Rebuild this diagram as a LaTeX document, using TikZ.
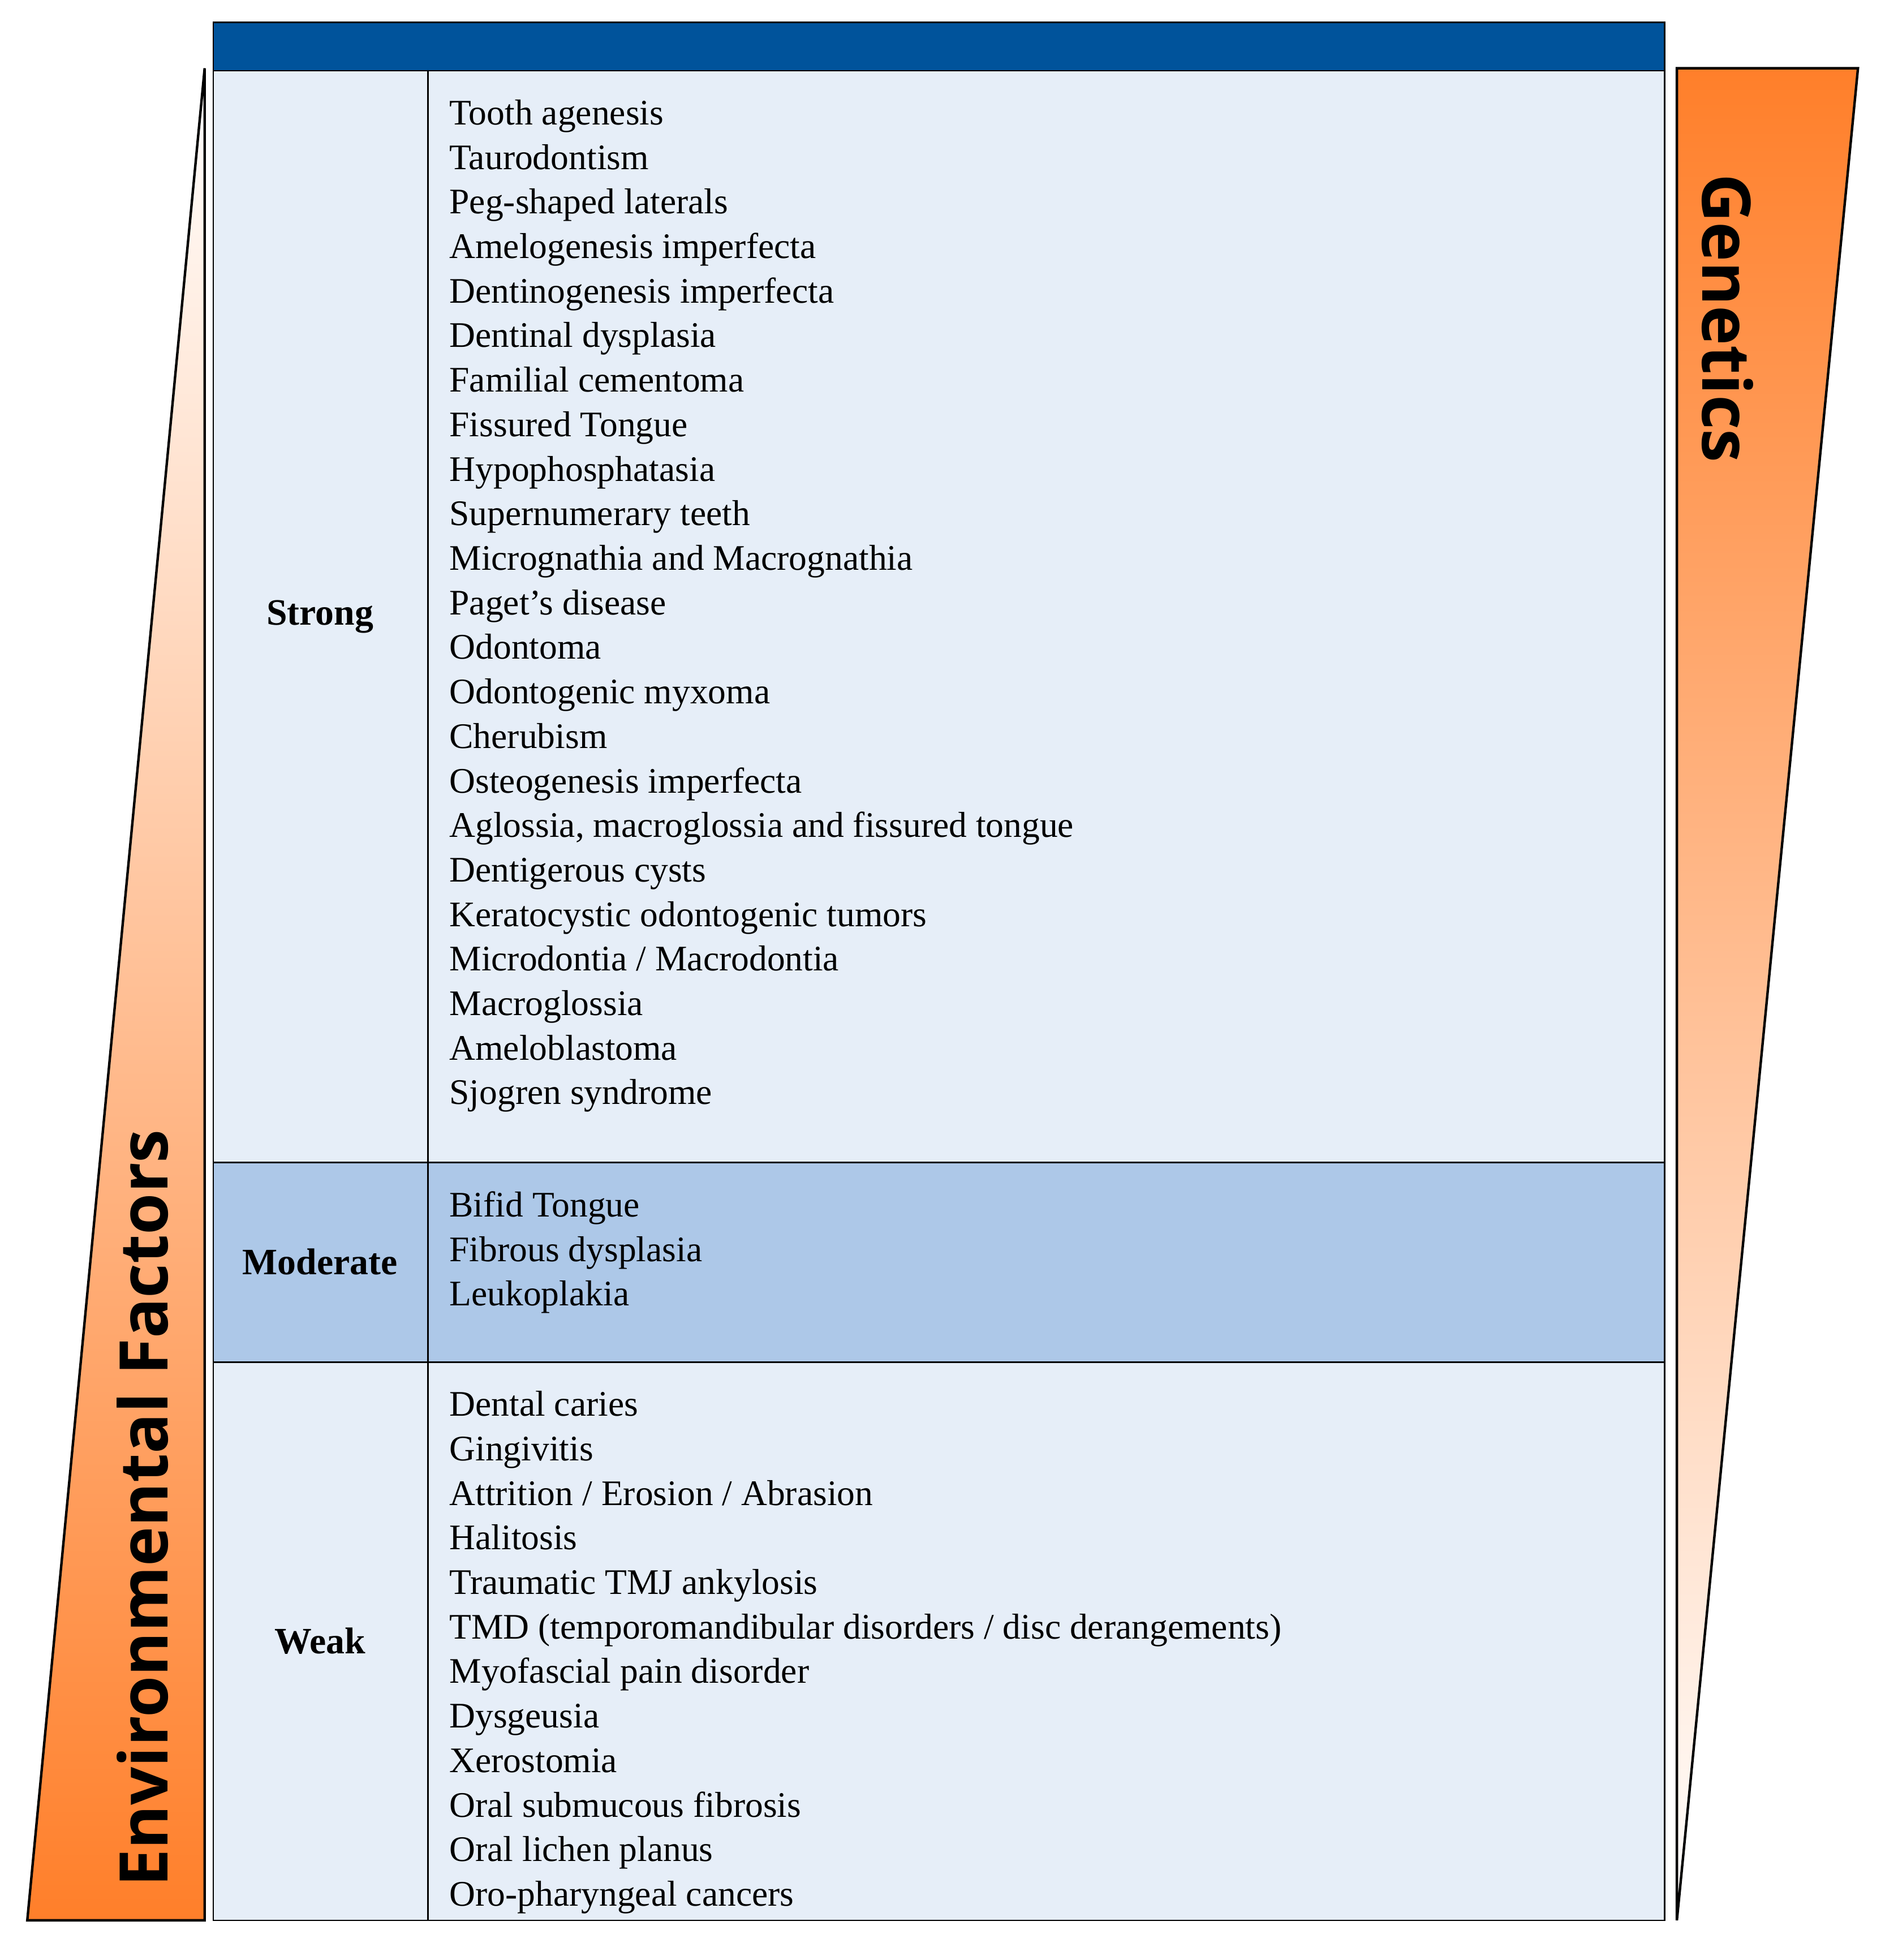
\documentclass[tikz,border=0pt]{standalone}
\usepackage{fontspec}
\setmainfont{Liberation Serif}
\newfontfamily\titlefont{Open Sans}
\begin{document}
\begin{tikzpicture}[x=0.5pt,y=-0.5pt,
  item/.style={anchor=north west,inner sep=0pt,align=left,font=\fontsize{14.5}{17.95}\selectfont},
  lab/.style={font=\fontsize{15}{18}\selectfont\bfseries},
  cell/.style={draw=black,line width=0.6pt}]
\definecolor{hdr}{HTML}{00539B}
\definecolor{light}{HTML}{E6EEF8}
\definecolor{mid}{HTML}{ADC8E8}
\definecolor{org}{HTML}{FF7F2A}
\useasboundingbox (0,0) rectangle (1530,1580);
% table
\fill[hdr] (172,18) rectangle (1342,57);
\fill[light] (172,57) rectangle (1342,937);
\fill[mid] (172,937) rectangle (1342,1098);
\fill[light] (172,1098) rectangle (1342,1548);
\draw[cell] (172,18) rectangle (1342,1548);
\draw[cell] (172,57) -- (1342,57);
\draw[cell] (172,937) -- (1342,937);
\draw[cell] (172,1098) -- (1342,1098);
\draw[cell] (345,57) -- (345,1548);
% triangles
\shade[top color=white,bottom color=org,draw=black,line width=1pt] (165,55) -- (165,1548) -- (22,1548) -- cycle;
\shade[top color=org,bottom color=white,draw=black,line width=1pt] (1352,55) -- (1498,55) -- (1352,1548) -- cycle;
\node[rotate=90,anchor=west,font=\titlefont\fontsize{27}{30}\selectfont\bfseries] (env) at (115,1528) {Environmental Factors};
\node[rotate=-90,anchor=west,font=\titlefont\fontsize{27}{30}\selectfont\bfseries] (gen) at (1393,133) {Genetics};
% labels
\node[lab] (s) at (258,497) {Strong};
\node[lab] (m) at (258,1017) {Moderate};
\node[lab] (w) at (258,1323) {Weak};
\node[item] (sl) at (362,80) {Tooth agenesis\\Taurodontism\\Peg-shaped laterals\\Amelogenesis imperfecta\\Dentinogenesis imperfecta\\Dentinal dysplasia\\Familial cementoma\\Fissured Tongue\\Hypophosphatasia\\Supernumerary teeth\\Micrognathia and Macrognathia\\Paget’s disease\\Odontoma\\Odontogenic myxoma\\Cherubism\\Osteogenesis imperfecta\\Aglossia, macroglossia and fissured tongue\\Dentigerous cysts\\Keratocystic odontogenic tumors\\Microdontia / Macrodontia\\Macroglossia\\Ameloblastoma\\Sjogren syndrome};
\node[item] (ml) at (362,960) {Bifid Tongue\\Fibrous dysplasia\\Leukoplakia};
\node[item] (wl) at (362,1121) {Dental caries\\Gingivitis\\Attrition / Erosion / Abrasion\\Halitosis\\Traumatic TMJ ankylosis\\TMD (temporomandibular disorders / disc derangements)\\Myofascial pain disorder\\Dysgeusia\\Xerostomia\\Oral submucous fibrosis\\Oral lichen planus\\Oro-pharyngeal cancers};
\end{tikzpicture}
\end{document}
